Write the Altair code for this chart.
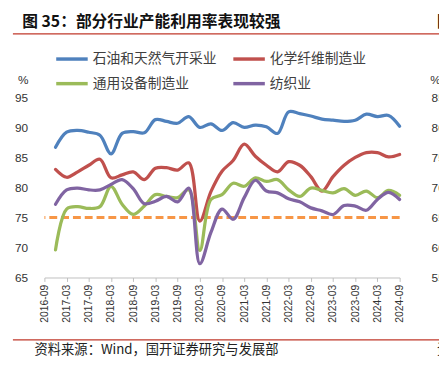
import altair as alt
import pandas as pd

# ---------------- data ----------------
quarters = ["2016-12",
            "2017-03", "2017-06", "2017-09", "2017-12",
            "2018-03", "2018-06", "2018-09", "2018-12",
            "2019-03", "2019-06", "2019-09", "2019-12",
            "2020-03", "2020-06", "2020-09", "2020-12",
            "2021-03", "2021-06", "2021-09", "2021-12",
            "2022-03", "2022-06", "2022-09", "2022-12",
            "2023-03", "2023-06", "2023-09", "2023-12",
            "2024-03", "2024-06", "2024-09"]

oil = [86.7, 89.2, 89.5, 89.2, 88.7, 85.6, 89.0, 89.3, 89.1, 91.3, 91.0, 90.7, 91.8,
       90.0, 90.6, 89.5, 90.8, 90.0, 90.4, 90.1, 89.0, 92.6, 92.3, 91.9, 91.4,
       91.2, 91.0, 91.2, 92.2, 91.8, 92.0, 90.2]
fiber = [83.0, 81.7, 82.6, 83.7, 84.7, 81.6, 82.1, 82.6, 81.3, 83.2, 83.3, 82.9, 84.1,
         74.4, 79.3, 82.7, 84.5, 87.2, 85.2, 83.7, 82.6, 84.3, 83.7, 81.8, 79.4,
         81.8, 83.7, 85.0, 85.8, 85.8, 85.1, 85.5]
equip = [69.6, 76.4, 76.8, 76.5, 76.8, 80.2, 77.2, 75.5, 76.9, 78.8, 78.5, 78.3, 79.6,
         69.5, 78.0, 78.8, 80.7, 80.2, 81.6, 81.0, 81.3, 79.6, 78.5, 79.9, 79.5,
         79.1, 79.8, 78.7, 79.4, 78.3, 79.5, 78.7]
textile = [77.2, 79.6, 79.9, 79.6, 79.6, 80.5, 81.3, 79.8, 77.3, 77.7, 78.5, 77.6, 79.9,
           67.3, 72.5, 76.4, 74.7, 78.3, 81.2, 79.4, 79.1, 78.1, 77.6, 76.6, 76.1,
           75.5, 77.0, 76.9, 76.2, 78.0, 79.2, 78.0]

series_names = ["石油和天然气开采业", "化学纤维制造业", "通用设备制造业", "纺织业"]
series_colors = ["#4F81BD", "#C0504D", "#9BBB59", "#8064A2"]
threshold = [75]
x_tick_months = list(range(0, 97, 6))      # 2016-09 ... 2024-09, every 6 months
left_ticks = [65, 70, 75, 80, 85, 90, 95]
right_ticks = [55, 60, 65, 70, 75, 80, 85]

title_text = ["图 35：部分行业产能利用率表现较强"]
source_text = ["资料来源：Wind，国开证券研究与发展部"]

# ---------------- build table ----------------
def month_index(q):
    y, m = q.split("-")
    return (int(y) - 2016) * 12 + (int(m) - 9)

rows = []
for name, vals in zip(series_names, [oil, fiber, equip, textile]):
    for q, v in zip(quarters, vals):
        rows.append({"q": q, "m": month_index(q), "s": name, "v": v})
df = pd.DataFrame(rows)

label_expr = ("(2016 + floor((datum.value + 8) / 12)) + '-' + "
              "(((datum.value + 8) % 12 + 1) < 10 ? '0' : '') + ((datum.value + 8) % 12 + 1)")

CJK = "Noto Sans CJK SC"
NUM = "Liberation Sans"

y_scale = alt.Scale(domain=[65, 95], nice=False, zero=False)
y_axis = alt.Axis(values=left_ticks, tickCount=7, domain=False, ticks=False, grid=False,
                  labelOverlap=False, labelFlush=False,
                  labelFont=NUM, labelFontSize=12, labelColor="#333333",
                  labelPadding=17, title="%", titleAngle=0, titleX=-22, titleY=-18,
                  titleAlign="center", titleBaseline="middle", titleFont=NUM,
                  titleFontSize=12, titleFontWeight="normal", titleColor="#333333")

lines = alt.Chart(df).mark_line(
    interpolate="catmull-rom", strokeWidth=3.3, strokeCap="round", strokeJoin="round"
).encode(
    x=alt.X("m:Q", title=None,
            scale=alt.Scale(domain=[0, 96], nice=False, zero=False),
            axis=alt.Axis(values=x_tick_months, labelExpr=label_expr, labelAngle=-90,
                          labelFont=NUM, labelFontSize=10.5, labelColor="#333333",
                          labelPadding=3, domainColor="#BFBFBF", domainWidth=1,
                          tickColor="#BFBFBF", tickSize=4, grid=False, labelFlush=False,
                          labelOverlap=False)),
    y=alt.Y("v:Q", scale=y_scale, axis=y_axis),
    color=alt.Color("s:N",
                    scale=alt.Scale(domain=series_names, range=series_colors),
                    legend=alt.Legend(title=None, orient="none", legendX=10, legendY=-57,
                                      columns=2, direction="horizontal",
                                      symbolType="stroke", symbolSize=1024,
                                      symbolStrokeWidth=3.5, labelFont=CJK, labelFontSize=14,
                                      labelColor="#404040", labelOffset=3, columnPadding=10,
                                      rowPadding=-10, padding=0, labelLimit=300)),
    detail="s:N",
)

rule = alt.Chart(pd.DataFrame({"v": threshold})).mark_rule(
    color="#F79646", strokeWidth=3, strokeDash=[8, 4]
).encode(y=alt.Y("v:Q", scale=y_scale, axis=y_axis))

right_axis = alt.Chart(pd.DataFrame({"r": right_ticks})).mark_point(opacity=0).encode(
    y=alt.Y("r:Q",
            scale=alt.Scale(domain=[55, 85], nice=False, zero=False),
            axis=alt.Axis(orient="right", values=right_ticks, tickCount=7, domain=False,
                          ticks=False, grid=False, labelOverlap=False, labelFlush=False,
                          labelFont=NUM, labelFontSize=12, labelColor="#333333",
                          labelPadding=32, title="%", titleAngle=0, titleX=36, titleY=-18,
                          titleAlign="center", titleBaseline="middle", titleFont=NUM,
                          titleFontSize=12, titleFontWeight="normal", titleColor="#333333"))
)

title = alt.Chart(pd.DataFrame({"t": title_text})).mark_text(
    font=CJK, fontSize=16, fontWeight="bold", align="left", baseline="middle", color="#111111"
).encode(text="t:N", x=alt.value(-22.5), y=alt.value(-76.5))

title_next = alt.Chart(pd.DataFrame({"t": ["图"]})).mark_text(
    font=CJK, fontSize=16, fontWeight="bold", align="left", baseline="middle", color="#111111"
).encode(text="t:N", x=alt.value(399), y=alt.value(-76.5))

title_rule = alt.Chart(pd.DataFrame({"a": [0]})).mark_rule(color="#C0392B", strokeWidth=1.3).encode(
    x=alt.value(-32), x2=alt.value(420), y=alt.value(-64.5))

foot_rule = alt.Chart(pd.DataFrame({"a": [0]})).mark_rule(color="#C0392B", strokeWidth=1.3).encode(
    x=alt.value(-32), x2=alt.value(420), y=alt.value(246.3))

source = alt.Chart(pd.DataFrame({"t": source_text})).mark_text(
    font=CJK, fontSize=13.5, align="left", baseline="middle", color="#222222"
).encode(text="t:N", x=alt.value(-10), y=alt.value(257))

source_next = alt.Chart(pd.DataFrame({"t": ["资"]})).mark_text(
    font=CJK, fontSize=13.5, align="left", baseline="middle", color="#222222"
).encode(text="t:N", x=alt.value(399), y=alt.value(257))

chart = alt.layer(
    alt.layer(rule, lines),
    right_axis,
    title, title_next, title_rule, foot_rule, source, source_next,
).resolve_scale(y="independent").properties(
    width=361, height=183,
    autosize=alt.AutoSizeParams(type="none"),
    padding={"left": 37, "top": 88, "right": 40, "bottom": 83},
    background="white",
).configure_view(stroke=None)

chart.save("out.html", embed_options={"renderer": "svg", "actions": False})
